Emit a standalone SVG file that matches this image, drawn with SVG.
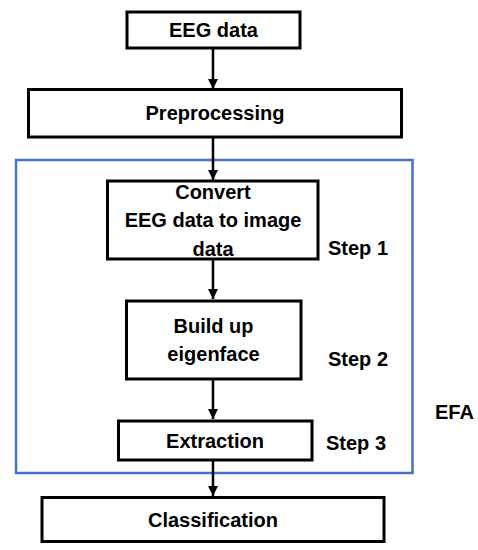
<svg xmlns="http://www.w3.org/2000/svg" width="478" height="550" viewBox="0 0 478 550">
<style>
.box{fill:#fff;stroke:#000;stroke-width:3}
.t{font-family:"Liberation Sans",Arial,sans-serif;font-weight:bold;font-size:20px;fill:#000;text-anchor:middle}
.l{font-family:"Liberation Sans",Arial,sans-serif;font-weight:bold;font-size:20px;fill:#000}
.c{stroke:#000;stroke-width:2.5;fill:none;marker-end:url(#ah)}
</style>
<defs>
<marker id="ah" viewBox="0 0 10 10" refX="10" refY="5" markerWidth="4" markerHeight="4" markerUnits="strokeWidth" orient="auto">
<path d="M0,0 L10,5 L0,10 z" fill="#000"/>
</marker>
</defs>
<rect width="478" height="550" fill="#fff"/>
<g id="efa">
<rect x="16" y="160" width="396.5" height="313" fill="none" stroke="#4472C4" stroke-width="2.5"/>
<text class="l" x="435" y="419">EFA</text>
</g>
<g id="connectors">
<line class="c" x1="213" y1="48" x2="213" y2="89"/>
<line class="c" x1="213" y1="137" x2="213" y2="180"/>
<line class="c" x1="213" y1="259" x2="213" y2="299"/>
<line class="c" x1="213" y1="379" x2="213" y2="419"/>
<line class="c" x1="213" y1="460" x2="213" y2="496"/>
</g>
<g id="eeg">
<rect class="box" x="127" y="12" width="173" height="36"/>
<text class="t" x="213.5" y="37">EEG data</text>
</g>
<g id="preprocessing">
<rect class="box" x="28.5" y="89.5" width="373" height="47.5"/>
<text class="t" x="215" y="120">Preprocessing</text>
</g>
<g id="convert">
<rect class="box" x="107.5" y="181" width="210.5" height="78"/>
<text class="t" x="213" y="199">Convert</text>
<text class="t" x="213" y="227">EEG data to image</text>
<text class="t" x="213" y="256">data</text>
<text class="l" x="328" y="255">Step 1</text>
</g>
<g id="build">
<rect class="box" x="126.5" y="301" width="174.5" height="78"/>
<text class="t" x="213.5" y="333">Build up</text>
<text class="t" x="213.5" y="361">eigenface</text>
<text class="l" x="328" y="366">Step 2</text>
</g>
<g id="extraction">
<rect class="box" x="118.5" y="421" width="193.5" height="39"/>
<text class="t" x="215" y="448">Extraction</text>
<text class="l" x="326" y="450">Step 3</text>
</g>
<g id="classification">
<rect class="box" x="42" y="497.5" width="342" height="44"/>
<text class="t" x="213" y="527">Classification</text>
</g>
</svg>
